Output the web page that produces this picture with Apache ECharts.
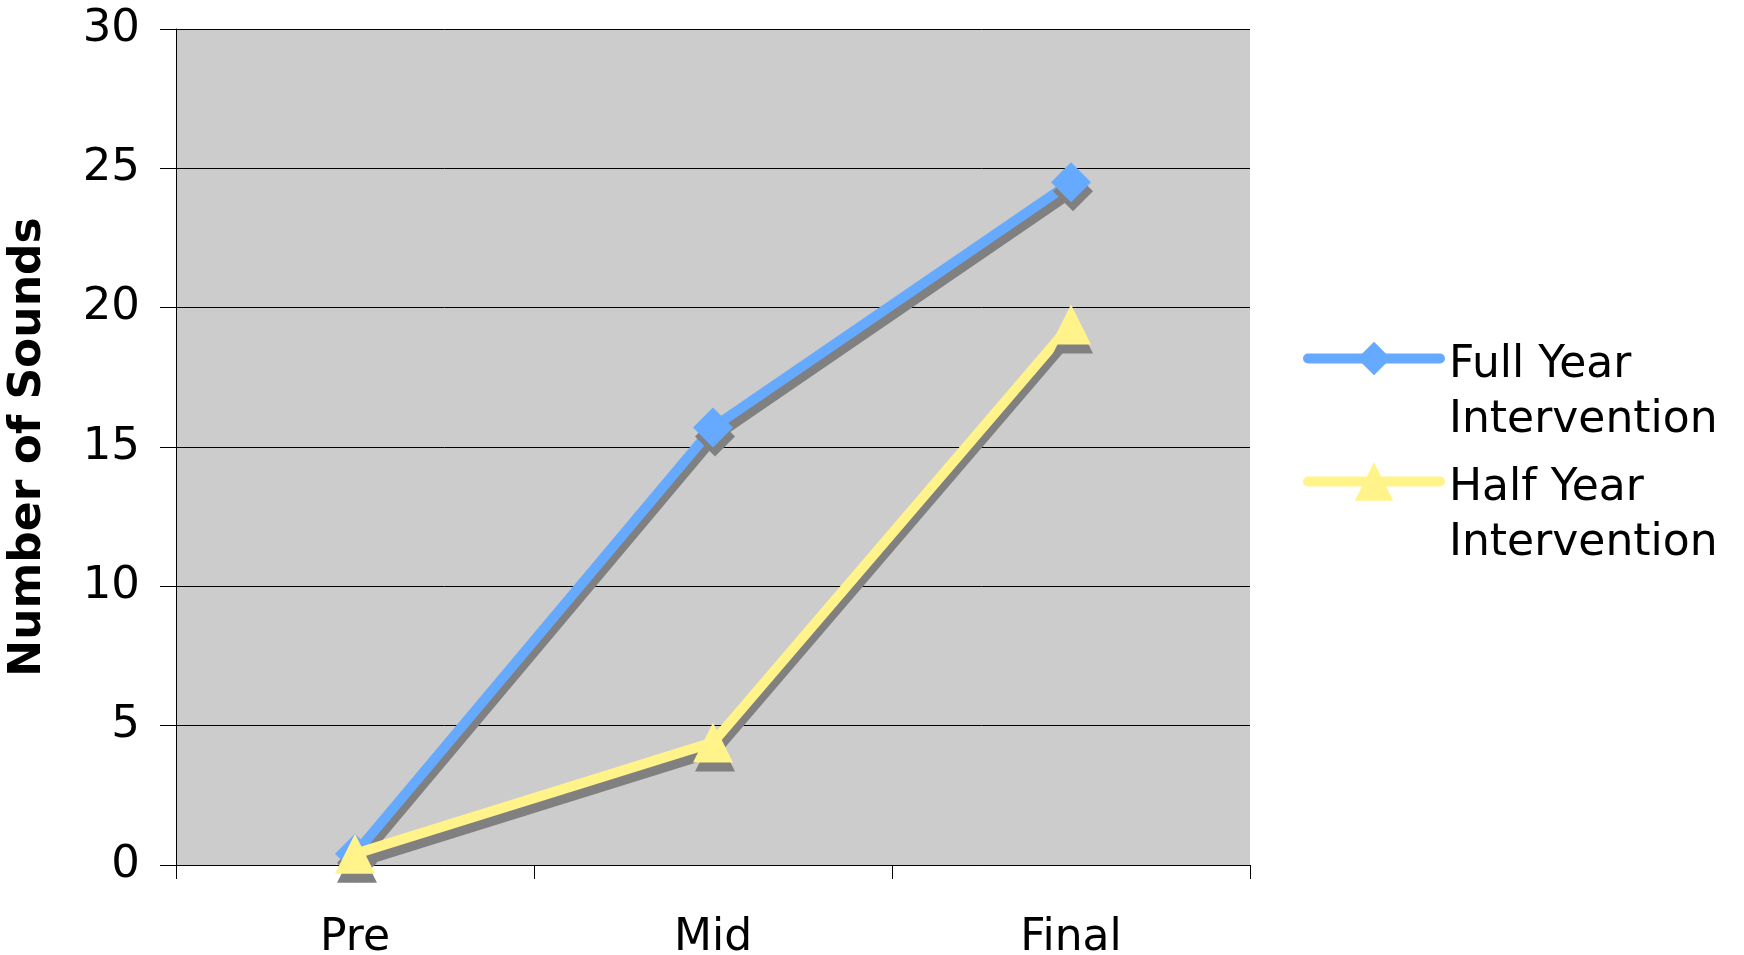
<!DOCTYPE html>
<html>
<head>
<meta charset="utf-8">
<script src="https://cdn.jsdelivr.net/npm/echarts@6/dist/echarts.min.js"></script>
<style>html,body{margin:0;padding:0;background:#fff}#c{width:1744px;height:955px}</style>
</head>
<body>
<div id="c"></div>
<script>
const categories = ['Pre', 'Mid', 'Final'];
const fullYear = [0.4, 15.7, 24.5];
const halfYear = [0.4, 4.4, 19.4];
const seriesNames = ['Full Year Intervention', 'Half Year Intervention'];
const yTicks = { min: 0, max: 30, interval: 5 };
const yTitle = 'Number of Sounds';

const FONT = 'DejaVu Sans';
const BLUE = '#66AAFF';
const YELLOW = '#FFF38A';
const SHADOW = '#808080';

const chart = echarts.init(document.getElementById('c'), null, { renderer: 'canvas' });

function legendFmt(name) {
  const parts = name.split(' Intervention');
  return '{g| }\n{t|' + parts[0] + '}\n{t|Intervention}';
}

const noShadow = { shadowColor: 'rgba(0,0,0,0)', shadowOffsetX: 0, shadowOffsetY: 0, shadowBlur: 0 };

function makeLegend(name, centerY, itemHeight) {
  return {
    data: [name], left: 1303, top: centerY - 76.5, padding: 0,
    itemWidth: 132, itemHeight: itemHeight,
    formatter: legendFmt,
    textStyle: {
      fontFamily: FONT, fontSize: 44, color: '#000',
      rich: {
        g: { fontFamily: FONT, fontSize: 44, lineHeight: 69 },
        t: { fontFamily: FONT, fontSize: 44, lineHeight: 55, color: '#000', padding: [0, 0, 0, 4] }
      }
    },
    lineStyle: Object.assign({ width: 10, cap: 'round' }, noShadow),
    itemStyle: Object.assign({}, noShadow)
  };
}

const option = {
  animation: false,
  textStyle: { fontFamily: FONT },
  grid: { left: 176, right: 494, top: 29, bottom: 90, show: true, backgroundColor: '#CCCCCC', borderWidth: 0, outerBoundsMode: 'none', containLabel: false },
  legend: [
    makeLegend(seriesNames[0], 358, 42),
    makeLegend(seriesNames[1], 481, 48)
  ],
  xAxis: {
    type: 'category',
    data: categories,
    boundaryGap: true,
    axisLine: { show: true, lineStyle: { color: '#000', width: 1 } },
    axisTick: { show: true, length: 14, alignWithLabel: false, lineStyle: { color: '#000', width: 1 } },
    axisLabel: { margin: 52, fontSize: 44, color: '#000', fontFamily: FONT },
    splitLine: { show: false }
  },
  yAxis: {
    type: 'value',
    min: yTicks.min, max: yTicks.max, interval: yTicks.interval,
    name: yTitle,
    nameLocation: 'middle',
    nameRotate: 90,
    nameGap: 125,
    nameTextStyle: { fontFamily: FONT, fontSize: 44, fontWeight: 'bold', color: '#000' },
    axisLine: { show: true, lineStyle: { color: '#000', width: 1 } },
    axisTick: { show: true, length: 16, lineStyle: { color: '#000', width: 1 } },
    axisLabel: { margin: 36, fontSize: 45, color: '#000', fontFamily: FONT },
    splitLine: { show: true, lineStyle: { color: '#000', width: 1 } }
  },
  series: [
    {
      name: seriesNames[0], type: 'line', data: fullYear, z: 2,
      symbol: 'diamond', symbolSize: 40,
      lineStyle: { color: BLUE, width: 10, cap: 'round', join: 'round', shadowColor: SHADOW, shadowBlur: 0, shadowOffsetX: 2, shadowOffsetY: 9 },
      itemStyle: { color: BLUE, borderWidth: 0, shadowColor: SHADOW, shadowBlur: 0, shadowOffsetX: 2, shadowOffsetY: 9 },
      emphasis: { disabled: true }
    },
    {
      name: seriesNames[1], type: 'line', data: halfYear, z: 3,
      symbol: 'triangle', symbolSize: 40,
      lineStyle: { color: YELLOW, width: 10, cap: 'round', join: 'round', shadowColor: SHADOW, shadowBlur: 0, shadowOffsetX: 2, shadowOffsetY: 9 },
      itemStyle: { color: YELLOW, borderWidth: 0, shadowColor: SHADOW, shadowBlur: 0, shadowOffsetX: 2, shadowOffsetY: 9 },
      emphasis: { disabled: true }
    }
  ]
};
chart.setOption(option);
</script>
</body>
</html>
